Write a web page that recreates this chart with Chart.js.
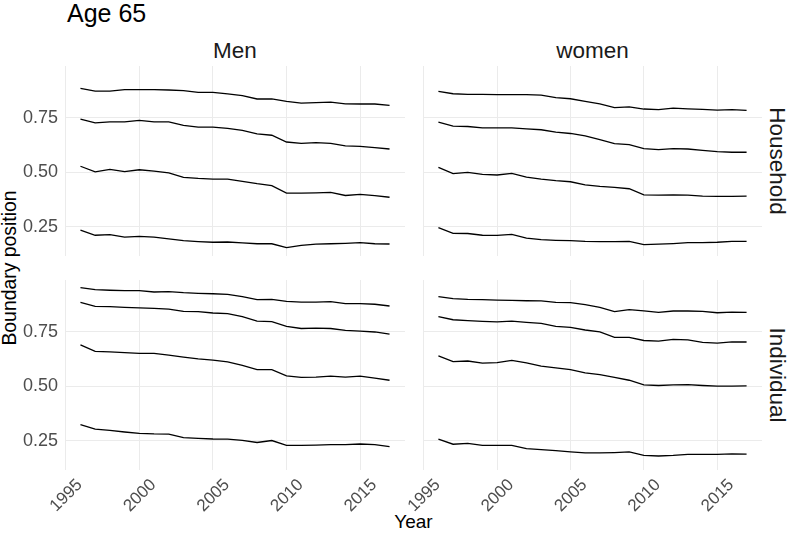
<!DOCTYPE html>
<html>
<head>
<meta charset="utf-8">
<script src="https://cdn.jsdelivr.net/npm/chart.js@4.4.0/dist/chart.umd.min.js"></script>
<style>
  body { margin: 0; background: #fff; }
  #wrap { position: relative; width: 789px; height: 536px; overflow: hidden; background: #fff;
          font-family: "Liberation Sans", Arial, sans-serif; }
  #wrap canvas { position: absolute; }
  .lbl { position: absolute; line-height: 1; white-space: nowrap; color: #1a1a1a; }
</style>
</head>
<body>
<div id="wrap">
  <div class="lbl" style="left:67px; top:1px; font-size:25px; color:#000;">Age 65</div>
  <div class="lbl" style="left:235px; top:39.5px; font-size:22.5px; transform:translateX(-50%);">Men</div>
  <div class="lbl" style="left:592.5px; top:39.5px; font-size:22.5px; transform:translateX(-50%);">women</div>
  <div class="lbl" style="left:777px; top:161px; font-size:22.5px; transform:translate(-50%,-50%) rotate(90deg);">Household</div>
  <div class="lbl" style="left:777px; top:375px; font-size:22.5px; transform:translate(-50%,-50%) rotate(90deg);">Individual</div>
  <div class="lbl" style="left:10px; top:268px; font-size:19.4px; color:#000; transform:translate(-50%,-50%) rotate(-90deg);">Boundary position</div>
  <div class="lbl" style="left:413.5px; top:512px; font-size:19px; color:#000; transform:translateX(-50%);">Year</div>

  <canvas id="men_household" width="405" height="190" style="left:0; top:66px;"></canvas>
  <canvas id="women_household" width="339" height="190" style="left:423px; top:66px;"></canvas>
  <canvas id="men_individual" width="405" height="256" style="left:0; top:280px;"></canvas>
  <canvas id="women_individual" width="379" height="256" style="left:383px; top:280px;"></canvas>
</div>

<script>
const years = [1996, 1997, 1998, 1999, 2000, 2001, 2002, 2003, 2004, 2005, 2006,
	2007, 2008, 2009, 2010, 2011, 2012, 2013, 2014, 2015, 2016, 2017];
const xTicks = [1995, 2000, 2005, 2010, 2015];
const yTicks = [0.25, 0.50, 0.75];

// four boundaries per panel, top to bottom
const menHousehold = [
	[0.885, 0.872, 0.872, 0.879, 0.879, 0.879, 0.877, 0.874, 0.866, 0.866, 0.859, 0.851, 0.836, 0.836, 0.825, 0.817, 0.819, 0.822, 0.814, 0.813, 0.813, 0.807],
	[0.744, 0.727, 0.731, 0.731, 0.738, 0.731, 0.731, 0.715, 0.707, 0.707, 0.701, 0.692, 0.676, 0.670, 0.639, 0.633, 0.636, 0.633, 0.621, 0.619, 0.613, 0.607],
	[0.528, 0.502, 0.514, 0.503, 0.512, 0.506, 0.498, 0.477, 0.472, 0.469, 0.469, 0.459, 0.448, 0.439, 0.405, 0.405, 0.406, 0.408, 0.394, 0.399, 0.393, 0.386],
	[0.235, 0.212, 0.215, 0.203, 0.207, 0.203, 0.195, 0.187, 0.183, 0.180, 0.181, 0.177, 0.173, 0.173, 0.155, 0.166, 0.171, 0.173, 0.175, 0.178, 0.173, 0.172]
];
const womenHousehold = [
	[0.871, 0.860, 0.857, 0.857, 0.856, 0.856, 0.856, 0.854, 0.842, 0.837, 0.825, 0.814, 0.796, 0.800, 0.790, 0.787, 0.794, 0.791, 0.788, 0.785, 0.787, 0.784],
	[0.730, 0.712, 0.710, 0.704, 0.704, 0.704, 0.699, 0.695, 0.684, 0.678, 0.667, 0.650, 0.632, 0.627, 0.609, 0.604, 0.609, 0.607, 0.601, 0.595, 0.592, 0.592],
	[0.523, 0.494, 0.500, 0.491, 0.488, 0.495, 0.478, 0.469, 0.462, 0.457, 0.443, 0.436, 0.431, 0.425, 0.397, 0.396, 0.397, 0.396, 0.391, 0.390, 0.390, 0.391],
	[0.247, 0.221, 0.220, 0.212, 0.211, 0.216, 0.199, 0.192, 0.189, 0.187, 0.184, 0.183, 0.183, 0.184, 0.169, 0.171, 0.174, 0.178, 0.178, 0.180, 0.184, 0.184]
];
const menIndividual = [
	[0.952, 0.943, 0.940, 0.938, 0.938, 0.932, 0.934, 0.929, 0.926, 0.924, 0.921, 0.911, 0.897, 0.898, 0.889, 0.886, 0.886, 0.888, 0.879, 0.879, 0.876, 0.868],
	[0.885, 0.866, 0.865, 0.862, 0.859, 0.857, 0.854, 0.843, 0.842, 0.836, 0.833, 0.819, 0.799, 0.796, 0.775, 0.765, 0.767, 0.765, 0.756, 0.753, 0.749, 0.739],
	[0.690, 0.660, 0.658, 0.654, 0.651, 0.651, 0.643, 0.634, 0.626, 0.620, 0.612, 0.596, 0.577, 0.577, 0.548, 0.541, 0.542, 0.547, 0.542, 0.547, 0.538, 0.528],
	[0.325, 0.304, 0.298, 0.291, 0.285, 0.282, 0.281, 0.265, 0.262, 0.259, 0.258, 0.253, 0.243, 0.252, 0.230, 0.230, 0.231, 0.233, 0.233, 0.236, 0.233, 0.224]
];
const womenIndividual = [
	[0.911, 0.902, 0.898, 0.897, 0.895, 0.894, 0.892, 0.891, 0.885, 0.883, 0.874, 0.862, 0.842, 0.851, 0.846, 0.839, 0.845, 0.845, 0.843, 0.837, 0.840, 0.839],
	[0.819, 0.805, 0.801, 0.798, 0.795, 0.799, 0.793, 0.788, 0.775, 0.770, 0.758, 0.749, 0.724, 0.724, 0.710, 0.707, 0.715, 0.713, 0.701, 0.698, 0.704, 0.703],
	[0.640, 0.613, 0.616, 0.606, 0.609, 0.619, 0.608, 0.593, 0.585, 0.577, 0.562, 0.554, 0.541, 0.528, 0.507, 0.504, 0.507, 0.508, 0.504, 0.501, 0.501, 0.502],
	[0.258, 0.235, 0.239, 0.230, 0.230, 0.230, 0.215, 0.210, 0.206, 0.200, 0.195, 0.195, 0.197, 0.200, 0.184, 0.181, 0.184, 0.189, 0.189, 0.189, 0.191, 0.190]
];

const gridColor = '#ebebeb';
const tickColor = '#4d4d4d';
const fontFamily = '"Liberation Sans", Arial, sans-serif';

function makeDatasets(series) {
	return series.map(function (vals) {
		return {
			data: years.map(function (yr, i) { return { x: yr, y: vals[i] }; }),
			borderColor: '#000000',
			borderWidth: 1.3,
			pointRadius: 0,
			tension: 0,
			fill: false,
		};
	});
}

// panels share fixed limits, so drop the label padding chart.js adds at the axis ends
function fixSize(s, size) {
	if (s.isHorizontal()) s.height = size;
	else s.width = size;
	s.paddingTop = 0;
	s.paddingBottom = 0;
	s.paddingLeft = 0;
	s.paddingRight = 0;
}

function makePanel(id, series, showX, showY, yWidth, xHeight) {
	new Chart(document.getElementById(id), {
		type: 'line',
		data: { datasets: makeDatasets(series) },
		options: {
			responsive: false,
			animation: false,
			devicePixelRatio: 1,
			layout: { padding: 0, autoPadding: false },
			plugins: { legend: { display: false }, tooltip: { enabled: false } },
			scales: {
				x: {
					type: 'linear',
					min: 1994.95,
					max: 2018.05,
					afterBuildTicks: function (s) { s.ticks = xTicks.map(function (v) { return { value: v }; }); },
					afterFit: function (s) { fixSize(s, xHeight); },
					grid: { color: gridColor, lineWidth: 1, drawTicks: false },
					border: { display: false },
					ticks: {
						display: showX,
						color: tickColor,
						font: { size: 17, family: fontFamily },
						minRotation: 45,
						maxRotation: 45,
						autoSkip: false,
						labelOffset: 14,
						padding: 5,
						callback: function (v) { return String(v); },
					},
				},
				y: {
					type: 'linear',
					min: 0.117,
					max: 0.987,
					afterBuildTicks: function (s) { s.ticks = yTicks.map(function (v) { return { value: v }; }); },
					afterFit: function (s) { fixSize(s, yWidth); },
					grid: { color: gridColor, lineWidth: 1, drawTicks: false },
					border: { display: false },
					ticks: {
						display: showY,
						color: tickColor,
						font: { size: 18, family: fontFamily },
						padding: 7,
						callback: function (v) { return v.toFixed(2); },
					},
				},
			},
		},
	});
}

makePanel('men_household', menHousehold, false, true, 65, 0);
makePanel('women_household', womenHousehold, false, false, 0, 0);
makePanel('men_individual', menIndividual, true, true, 65, 66);
makePanel('women_individual', womenIndividual, true, false, 40, 66);
</script>
</body>
</html>
